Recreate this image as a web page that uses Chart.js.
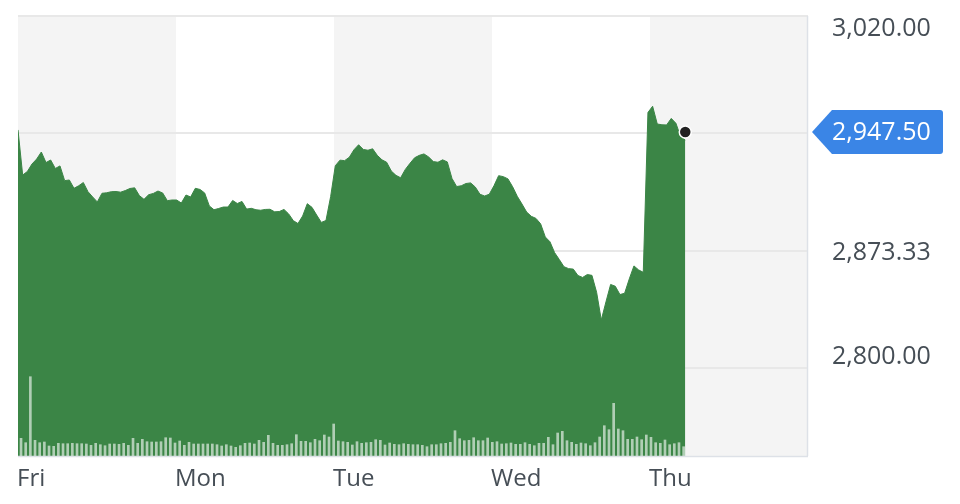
<!DOCTYPE html>
<html><head><meta charset="utf-8">
<script src="https://cdn.jsdelivr.net/npm/chart.js@4.4.1/dist/chart.umd.min.js"></script>
<style>html,body{margin:0;padding:0;background:#fff;}#c{display:block}</style>
</head><body>
<canvas id="c" width="960" height="504"></canvas>
<script>
// ---------- data ----------
const DAY_LABELS = ['Fri', 'Mon', 'Tue', 'Wed', 'Thu'];
const POINTS_PER_DAY = 33.86;
const PRICE = [
  2948.8, 2920.6, 2922.8, 2927.5, 2930.6, 2935.0, 2928.4, 2930.0, 2924.7, 2926.3,
  2917.1, 2917.5, 2912.3, 2913.9, 2915.9, 2910.2, 2906.9, 2903.8, 2909.2, 2909.5,
  2910.2, 2910.3, 2909.9, 2910.9, 2912.2, 2912.6, 2907.8, 2905.4, 2908.3, 2909.1,
  2910.6, 2909.4, 2904.6, 2905.0, 2905.0, 2903.1, 2908.1, 2906.9, 2912.3, 2911.6,
  2909.4, 2901.3, 2898.9, 2899.7, 2900.6, 2900.6, 2904.7, 2902.8, 2904.1, 2899.3,
  2899.8, 2898.9, 2898.6, 2899.1, 2899.2, 2897.6, 2897.8, 2899.1, 2896.3, 2892.1,
  2890.3, 2895.0, 2902.7, 2900.4, 2895.6, 2891.0, 2892.2, 2907.1, 2926.4, 2929.9,
  2929.6, 2931.7, 2936.4, 2939.5, 2936.6, 2936.1, 2937.0, 2932.9, 2930.1, 2928.6,
  2923.1, 2920.4, 2918.9, 2924.1, 2927.9, 2931.4, 2932.9, 2933.8, 2931.9, 2929.0,
  2928.6, 2930.1, 2928.8, 2918.5, 2913.4, 2913.9, 2915.3, 2915.7, 2913.1, 2908.6,
  2907.5, 2908.6, 2913.9, 2920.2, 2919.6, 2918.2, 2913.3, 2907.3, 2902.5, 2897.5,
  2894.8, 2893.5, 2890.1, 2881.9, 2878.9, 2872.1, 2867.8, 2863.3, 2862.1, 2861.8,
  2857.8, 2856.6, 2858.4, 2857.9, 2847.3, 2830.0, 2841.3, 2852.2, 2851.1, 2845.9,
  2846.7, 2855.7, 2863.8, 2861.3, 2859.8, 2959.7, 2963.6, 2952.5, 2952.0, 2951.9,
  2956.0, 2952.9, 2944.6, 2942.5
];
const VOLUME = [
  1770, 1330, 7930, 1570, 1330, 1400, 1000, 970, 1270, 1230,
  1230, 1270, 1230, 1230, 1200, 1070, 1270, 1130, 1030, 1200,
  1200, 1170, 1270, 1070, 1770, 1270, 1670, 1430, 1400, 1400,
  1430, 1830, 1800, 1300, 1500, 1070, 1370, 1200, 1200, 1200,
  1200, 1200, 1130, 1000, 1130, 1000, 870, 1030, 1270, 1300,
  1200, 1570, 1370, 2070, 1270, 1070, 1070, 1130, 1230, 2130,
  1470, 1470, 1330, 1670, 1530, 2100, 1900, 3200, 1500,
  1430, 1370, 1100, 1430, 1270, 1330, 1370, 1630, 1570, 1100,
  1300, 1170, 1130, 1230, 1170, 1130, 1130, 1070, 930, 1130,
  1130, 1230, 1270, 1370, 2530, 1730, 1530, 1570, 1830, 1530,
  1530, 1800, 1370, 1430, 1200, 1230, 1300, 1170, 1170, 1330,
  1170, 1030, 1270, 1270, 1870, 1130, 2300, 2470, 1530, 1370,
  1170, 1300, 1230, 1030, 1330, 1900, 3030, 2630, 5270, 2700,
  2530, 1670, 1670, 1900, 1630, 2100, 1870, 1330, 1270, 1600,
  1130, 1230, 1330, 930
];
const Y_TICKS = [2800, 2873.33, 2946.67, 3020];
const Y_TICK_LABELS = ['2,800.00', '2,873.33', '', '3,020.00'];
const LAST_PRICE = 2947.50;
const LAST_PRICE_LABEL = '2,947.50';

// ---------- styling ----------
const GREEN = '#3b8546';
const TEXT = '#464e56';
const LABEL_BASELINE_SHIFT = [-4, 9, 0, 20];

const priceData = PRICE.map((v, i) => ({ x: i, y: v }));
const volData = VOLUME.map((v, i) => ({ x: i + 0.65, y: v }));

const decor = {
  id: 'decor',
  beforeDraw(chart) {
    const { ctx, chartArea: a, scales: { x } } = chart;
    ctx.save();
    ctx.fillStyle = '#ffffff';
    ctx.fillRect(0, 0, chart.width, chart.height);
    DAY_LABELS.forEach((d, k) => {
      const x0 = x.getPixelForValue(k * POINTS_PER_DAY);
      const x1 = x.getPixelForValue((k + 1) * POINTS_PER_DAY);
      if (k % 2 === 0) {
        ctx.fillStyle = '#f4f4f4';
        ctx.fillRect(x0, a.top, x1 - x0, a.bottom - a.top);
      }
    });
    ctx.restore();
  },
  afterDraw(chart) {
    const { ctx, chartArea: a, scales: { x, y } } = chart;
    ctx.save();
    // borders
    ctx.strokeStyle = '#dde1e7';
    ctx.lineWidth = 1.5;
    ctx.beginPath();
    ctx.moveTo(a.right - 0.5, a.top);
    ctx.lineTo(a.right - 0.5, a.bottom);
    ctx.moveTo(a.left, a.bottom + 0.5);
    ctx.lineTo(a.right, a.bottom + 0.5);
    ctx.stroke();

    // x labels
    ctx.fillStyle = TEXT;
    ctx.font = '24px "Open Sans"';
    ctx.textAlign = 'left';
    ctx.textBaseline = 'alphabetic';
    DAY_LABELS.forEach((d, k) => {
      ctx.fillText(d, x.getPixelForValue(k * POINTS_PER_DAY) - 1, a.bottom + 30);
    });

    // y labels
    ctx.font = '25px "Open Sans"';
    Y_TICKS.forEach((v, k) => {
      if (!Y_TICK_LABELS[k]) return;
      ctx.fillText(Y_TICK_LABELS[k], a.right + 24, y.getPixelForValue(v) + LABEL_BASELINE_SHIFT[k]);
    });

    // badge
    const py = y.getPixelForValue(LAST_PRICE);
    const tip = a.right + 4, bx = a.right + 24, br = a.right + 135, h = 22, r = 3;
    ctx.fillStyle = '#3a85e6';
    ctx.beginPath();
    ctx.moveTo(tip, py);
    ctx.lineTo(bx, py - h);
    ctx.lineTo(br - r, py - h);
    ctx.quadraticCurveTo(br, py - h, br, py - h + r);
    ctx.lineTo(br, py + h - r);
    ctx.quadraticCurveTo(br, py + h, br - r, py + h);
    ctx.lineTo(bx, py + h);
    ctx.closePath();
    ctx.fill();
    ctx.fillStyle = '#ffffff';
    ctx.fillText(LAST_PRICE_LABEL, a.right + 24, py + 8);
    ctx.restore();
  }
};

new Chart(document.getElementById('c'), {
  data: {
    datasets: [
      {
        type: 'scatter',
        data: [{ x: PRICE.length - 1, y: LAST_PRICE }],
        yAxisID: 'y',
        pointRadius: 6,
        pointBackgroundColor: '#222222',
        pointBorderColor: '#ffffff',
        pointBorderWidth: 1.5,
        order: -1
      },
      {
        type: 'bar',
        data: volData,
        yAxisID: 'yv',
        backgroundColor: 'rgba(255,255,255,0.6)',
        barThickness: 2,
        order: 0
      },
      {
        type: 'line',
        data: priceData,
        yAxisID: 'y',
        borderColor: GREEN,
        backgroundColor: GREEN,
        borderWidth: 1,
        fill: 'start',
        pointRadius: 0,
        tension: 0,
        order: 2
      }
    ]
  },
  options: {
    responsive: false,
    devicePixelRatio: 1,
    animation: false,
    events: [],
    layout: { padding: { left: 18, top: 16, right: 152, bottom: 48 } },
    plugins: { legend: { display: false }, tooltip: { enabled: false } },
    scales: {
      x: { type: 'linear', display: false, offset: false, min: 0, max: POINTS_PER_DAY * 5, grid: { offset: false } },
      y: {
        type: 'linear', position: 'right', min: 2745, max: 3020,
        afterBuildTicks: s => { s.ticks = Y_TICKS.map(v => ({ value: v })); },
        afterFit: s => { s.width = 0; },
        ticks: { display: false },
        border: { display: false },
        grid: { color: '#e8e8e8', lineWidth: 2, drawTicks: false }
      },
      yv: { type: 'linear', display: false, min: 0, max: 44000 }
    }
  },
  plugins: [decor]
});
</script>
</body></html>
